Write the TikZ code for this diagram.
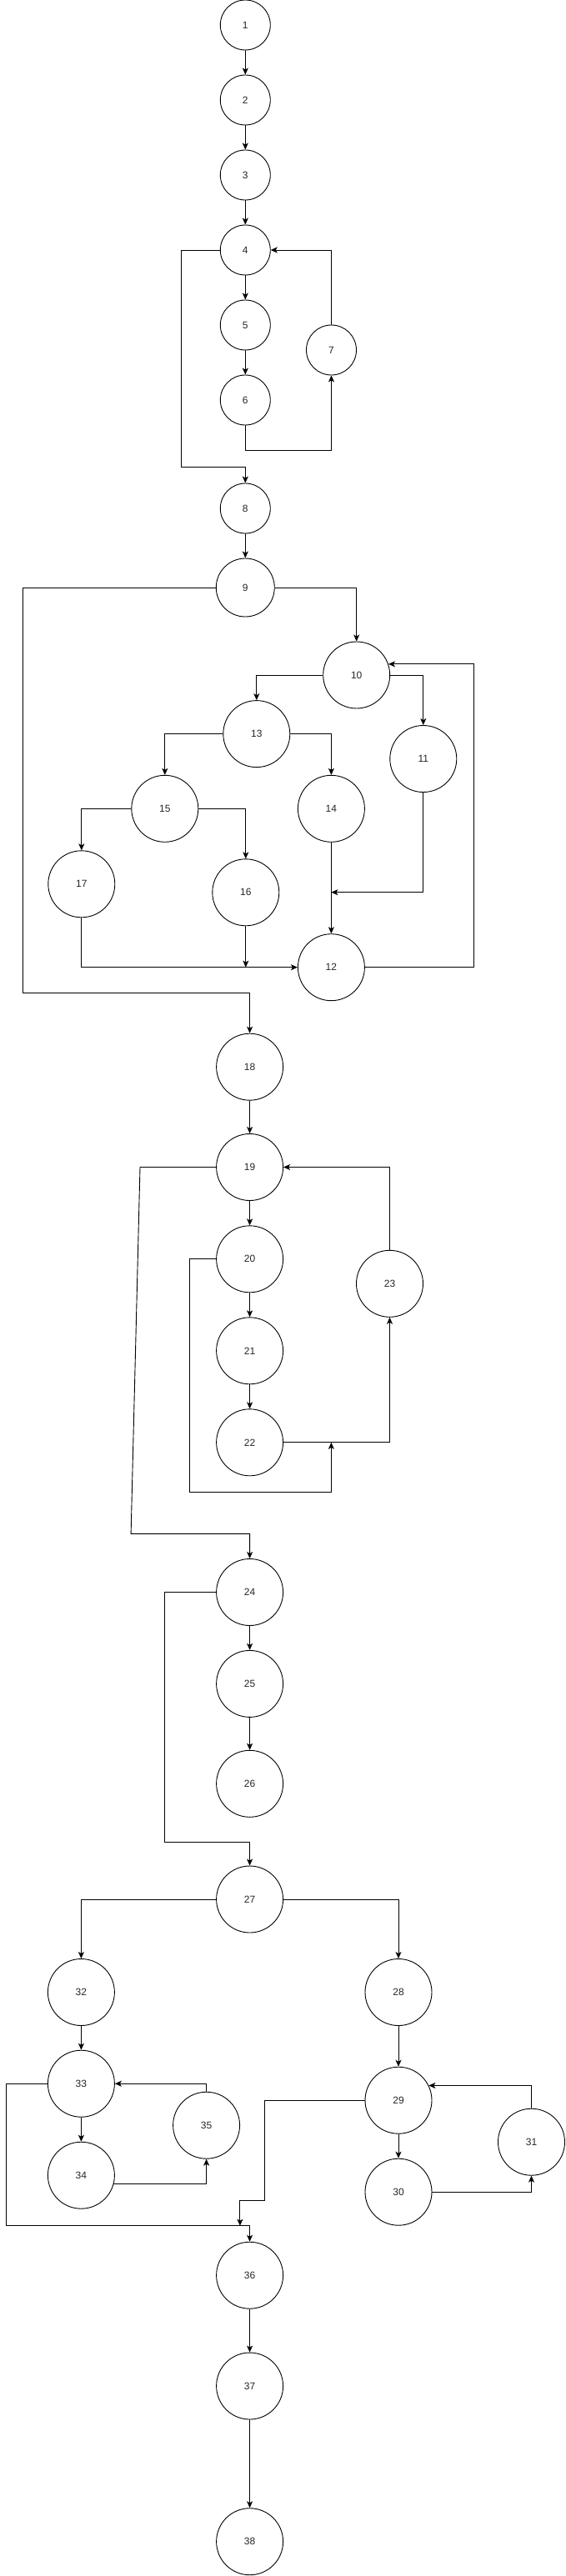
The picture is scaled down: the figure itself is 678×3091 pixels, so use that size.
\documentclass[tikz,border=0pt]{standalone}
\usepackage{fontspec}
\setmainfont{Liberation Sans}
\usetikzlibrary{arrows.meta}
\begin{document}
\begin{tikzpicture}[x=1pt,y=-1pt,
  nd/.style={circle,draw=black,line width=0.9pt,inner sep=0pt,fill=white,
    text=black!85,font=\fontsize{12}{14}\selectfont},
  sm/.style={nd,minimum size=60pt},
  md/.style={nd,minimum size=70pt},
  lg/.style={nd,minimum size=80pt},
  arr/.style={line width=0.9pt,-{Stealth[length=8pt,width=7pt,inset=2pt]}},
  ln/.style={line width=0.9pt}]
\useasboundingbox (0,0) rectangle (678,3091);
% nodes
\node[sm] (n1) at (294.3,30) {1};
\node[sm] (n2) at (294.3,120) {2};
\node[sm] (n3) at (294.3,210) {3};
\node[sm] (n4) at (294.3,300) {4};
\node[sm] (n5) at (294.3,390) {5};
\node[sm] (n6) at (294.3,480) {6};
\node[sm] (n7) at (397.5,420) {7};
\node[sm] (n8) at (294.3,610) {8};
\node[md] (n9) at (294.3,705) {9};
\node[lg] (n10) at (427.7,810) {10};
\node[lg] (n13) at (307.8,880.6) {13};
\node[lg] (n11) at (507.8,910.5) {11};
\node[lg] (n15) at (197.8,970.3) {15};
\node[lg] (n14) at (397.4,970.3) {14};
\node[lg] (n17) at (97.8,1060.8) {17};
\node[lg] (n16) at (294.8,1070.8) {16};
\node[lg] (n12) at (397.4,1160.7) {12};
\node[lg] (n18) at (299.6,1280.2) {18};
\node[lg] (n19) at (299.6,1400.5) {19};
\node[lg] (n20) at (299.6,1510.8) {20};
\node[lg] (n21) at (299.6,1620.8) {21};
\node[lg] (n22) at (299.6,1730.8) {22};
\node[lg] (n23) at (467.5,1540.3) {23};
\node[lg] (n24) at (299.6,1910.5) {24};
\node[lg] (n25) at (299.6,2020.4) {25};
\node[lg] (n26) at (299.6,2140.3) {26};
\node[lg] (n27) at (299.6,2279) {27};
\node[lg] (n32) at (97.4,2390.5) {32};
\node[lg] (n28) at (478,2390.5) {28};
\node[lg] (n33) at (97.4,2500.2) {33};
\node[lg] (n34) at (97.4,2610.2) {34};
\node[lg] (n35) at (247.6,2550.2) {35};
\node[lg] (n29) at (478,2520.2) {29};
\node[lg] (n30) at (478,2630.2) {30};
\node[lg] (n31) at (637.5,2570.2) {31};
\node[lg] (n36) at (299.6,2730.2) {36};
\node[lg] (n37) at (299.6,2863) {37};
\node[lg] (n38) at (299.6,3049.7) {38};
% helper coordinates
\coordinate (c67) at (294.3,540);
\coordinate (c48) at (217.5,560);
\coordinate (c918) at (27.3,1191);
\coordinate (j1) at (397.4,1070.7);
\coordinate (r10) at (568,1160.7);
\coordinate (a1) at (227.7,1790.9);
\coordinate (j3) at (397.4,1730.8);
\coordinate (b1) at (168,1400.5);
\coordinate (b2) at (157.1,1840.3);
\coordinate (d1) at (197.8,2210.8);
\coordinate (e1) at (7.3,2670.7);
\coordinate (f1) at (317.7,2640);
\coordinate (f2) at (287.9,2670.7);
% edges
\draw[arr] (n1) -- (n2);
\draw[arr] (n2) -- (n3);
\draw[arr] (n3) -- (n4);
\draw[arr] (n4) -- (n5);
\draw[arr] (n5) -- (n6);
\draw[arr] (n6.south) -- (c67) -| (n7.south);
\draw[arr] (n7.north) |- (n4.east);
\draw[arr] (n4.west) -| (c48) -| (n8.north);
\draw[arr] (n8) -- (n9);
\draw[arr] (n9.east) -| (n10.north);
\draw[arr] (n9.west) -| (c918) -| (n18.north);
\draw[arr] (n10.west) -| (n13.north);
\draw[arr] (n10.east) -| (n11.north);
\draw[arr] (n13.west) -| (n15.north);
\draw[arr] (n13.east) -| (n14.north);
\draw[arr] (n15.west) -| (n17.north);
\draw[arr] (n15.east) -| (n16.north);
\draw[arr] (n14) -- (n12);
\draw[arr] (n11.south) |- (j1);
\draw[arr] (n17.south) |- (n12.west);
\draw[arr] (n16.south) -- (n16 |- n12);
\draw[arr] (n12.east) -- (r10) |- (n10.19);
\draw[arr] (n18) -- (n19);
\draw[arr] (n19) -- (n20);
\draw[arr] (n20) -- (n21);
\draw[arr] (n21) -- (n22);
\draw[arr] (n22.east) -| (n23.south);
\draw[arr] (n23.north) |- (n19.east);
\draw[arr] (n20.west) -| (a1) -| (j3);
\draw[arr] (n19.west) -- (b1) -- (b2) -| (n24.north);
\draw[arr] (n24) -- (n25);
\draw[arr] (n25) -- (n26);
\draw[arr] (n24.west) -| (d1) -| (n27.north);
\draw[arr] (n27.west) -| (n32.north);
\draw[arr] (n27.east) -| (n28.north);
\draw[arr] (n28) -- (n29);
\draw[arr] (n32) -- (n33);
\draw[arr] (n33) -- (n34);
\draw[arr] (n29) -- (n30);
\draw[arr] (n34.-15.5) -| (n35.south);
\draw[arr] (n35.north) |- (n33.east);
\draw[arr] (n33.west) -| (e1) -| (n36.north);
\draw[arr] (n29.west) -| (f1) -| (f2);
\draw[arr] (n30.east) -| (n31.south);
\draw[arr] (n31.north) |- (n29.26.6);
\draw[arr] (n36) -- (n37);
\draw[arr] (n37) -- (n38);
\end{tikzpicture}
\end{document}
